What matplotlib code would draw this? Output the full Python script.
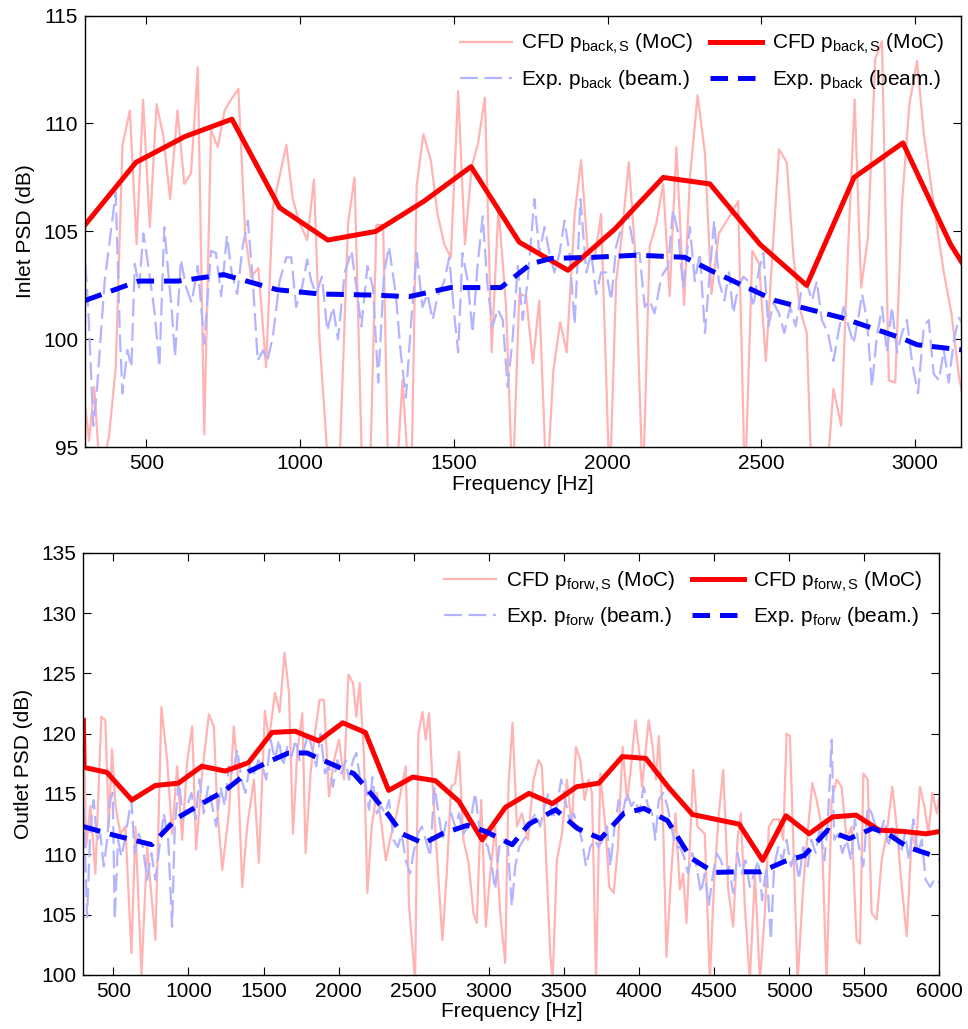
import numpy as np
import matplotlib.pyplot as plt

plt.rcParams['font.family'] = ['Liberation Sans', 'DejaVu Sans']
plt.rcParams['mathtext.fontset'] = 'custom'
plt.rcParams['mathtext.rm'] = 'Liberation Sans'
plt.rcParams['mathtext.it'] = 'Liberation Sans:italic'
plt.rcParams['font.size'] = 15

# ---- inlet (backward wave) ----
# CFD spectrum, raw (dips below 95 dB set to ~93)
in_cfd_f = [302, 313, 330, 350, 378, 400, 422, 446, 468, 489, 511, 533, 555, 577, 601, 623,
            645, 667, 688, 710, 732, 754, 775, 799, 821, 840, 864, 889, 911, 955, 976, 998,
            1023, 1045, 1063, 1101, 1125, 1156, 1177, 1205, 1226, 1248, 1270, 1289, 1311, 1333,
            1360, 1379, 1401, 1425, 1447, 1469, 1490, 1514, 1536, 1558, 1579, 1601, 1623, 1645,
            1670, 1691, 1713, 1735, 1757, 1778, 1802, 1824, 1846, 1867, 1893, 1914, 1936, 1958,
            1979, 2007, 2028, 2047, 2069, 2090, 2115, 2137, 2159, 2181, 2202, 2224, 2249, 2268,
            2293, 2317, 2338, 2362, 2401, 2425, 2447, 2471, 2493, 2515, 2537, 2558, 2583, 2605,
            2626, 2648, 2665, 2710, 2735, 2760, 2782, 2804, 2825, 2847, 2871, 2893, 2915, 2936,
            2958, 2982, 3007, 3029, 3050, 3072, 3094, 3119, 3143, 3160]
in_cfd_db = [96.8, 95.3, 97.8, 93.5, 95.5, 98.7, 109.0, 110.6, 104.4, 111.1, 105.2, 110.9, 109.4,
             106.5, 110.6, 107.2, 107.7, 112.6, 95.6, 109.7, 108.9, 110.6, 111.1, 111.6, 104.9,
             102.9, 103.3, 98.7, 106.1, 109.0, 106.5, 105.4, 104.6, 107.4, 100.0, 92.0, 93.0,
             105.4, 107.5, 92.0, 93.0, 105.3, 105.3, 92.0, 93.0, 98.1, 92.0, 107.1, 109.5, 108.3,
             105.8, 104.4, 103.8, 111.5, 104.4, 108.0, 109.1, 111.2, 99.4, 106.1, 101.5, 93.0,
             102.1, 102.0, 98.9, 101.8, 93.0, 98.6, 100.8, 99.4, 105.8, 108.3, 104.0, 103.7,
             105.8, 93.0, 102.7, 104.9, 108.2, 104.0, 93.0, 104.3, 105.4, 107.2, 102.0, 108.9,
             101.6, 107.5, 111.3, 108.6, 102.1, 104.9, 105.8, 106.4, 93.0, 104.1, 103.5, 99.0,
             104.1, 108.8, 108.2, 103.8, 101.4, 100.3, 93.0, 93.0, 97.7, 96.0, 104.0, 111.1,
             102.4, 104.7, 113.0, 113.8, 98.1, 98.0, 106.3, 110.9, 112.9, 109.5, 107.4, 105.2,
             103.1, 101.2, 98.3, 97.0]

# experiment, beamforming, raw
in_exp_f = [297, 312, 327, 338, 364, 386, 400, 414, 422, 438, 451, 462, 476, 490, 503, 527, 542,
            558, 571, 582, 593, 612, 629, 647, 667, 688, 710, 726, 743, 762, 777, 795, 813, 830,
            846, 862, 879, 893, 911, 933, 955, 971, 987, 1006, 1023, 1036, 1052, 1071, 1088,
            1107, 1123, 1145, 1167, 1183, 1199, 1219, 1237, 1254, 1273, 1289, 1311, 1327, 1344,
            1360, 1379, 1398, 1414, 1431, 1447, 1469, 1485, 1501, 1514, 1528, 1545, 1561, 1577,
            1594, 1610, 1626, 1643, 1659, 1675, 1691, 1708, 1724, 1740, 1762, 1778, 1795, 1811,
            1827, 1844, 1860, 1876, 1893, 1912, 1931, 1947, 1963, 1979, 1996, 2012, 2028, 2045,
            2066, 2088, 2104, 2121, 2137, 2153, 2175, 2197, 2213, 2230, 2246, 2268, 2284, 2300,
            2317, 2333, 2347, 2362, 2380, 2395, 2409, 2425, 2442, 2458, 2474, 2491, 2507, 2523,
            2540, 2558, 2575, 2594, 2612, 2632, 2648, 2665, 2681, 2697, 2717, 2735, 2752, 2768,
            2784, 2800, 2815, 2828, 2844, 2860, 2876, 2893, 2909, 2925, 2942, 2958, 2974, 2991,
            3010, 3029, 3045, 3061, 3078, 3094, 3110, 3127, 3143, 3160]
in_exp_db = [104.6, 101.0, 96.0, 97.5, 102.7, 105.2, 106.8, 100.0, 97.5, 99.5, 98.7, 103.5, 102.4,
             104.9, 103.7, 101.2, 98.7, 105.2, 103.1, 101.4, 99.2, 103.7, 102.4, 101.7, 103.4,
             99.8, 104.1, 104.0, 102.0, 104.8, 103.1, 102.1, 104.3, 105.5, 102.7, 99.0, 99.5,
             99.0, 100.1, 102.7, 103.8, 103.8, 101.5, 102.4, 103.7, 102.7, 102.1, 102.9, 100.4,
             101.5, 100.0, 103.1, 104.1, 102.4, 100.6, 103.4, 102.4, 98.0, 103.1, 104.3, 102.1,
             99.4, 97.3, 100.6, 104.0, 101.5, 102.1, 100.9, 102.0, 102.7, 103.8, 101.2, 99.4,
             104.0, 102.7, 100.3, 103.4, 105.7, 102.4, 100.6, 101.4, 100.9, 97.8, 100.0, 103.4,
             100.9, 102.7, 106.5, 104.0, 105.2, 104.0, 103.1, 104.0, 105.5, 104.0, 100.7, 106.5,
             103.1, 104.0, 102.1, 103.1, 103.1, 101.8, 104.3, 105.2, 105.8, 104.0, 104.0, 101.5,
             101.8, 101.2, 102.9, 103.4, 106.0, 104.9, 102.4, 105.2, 102.7, 104.0, 100.3, 103.2,
             105.5, 102.7, 101.8, 103.1, 101.2, 102.4, 102.9, 102.7, 101.5, 103.1, 104.0, 100.6,
             101.7, 101.2, 100.3, 101.5, 100.6, 102.4, 102.6, 101.8, 102.7, 100.9, 100.3, 99.0,
             100.4, 101.5, 100.6, 99.8, 100.9, 102.1, 100.9, 97.8, 100.1, 101.5, 99.4, 101.5,
             99.4, 100.3, 100.9, 98.9, 97.5, 100.6, 100.9, 98.4, 98.1, 99.5, 98.0, 100.0, 101.0,
             100.6]

# method-of-characteristics averages
in_cfd_moc_f = [300, 466, 626, 778, 933, 1090, 1246, 1403, 1556, 1713, 1871, 2023, 2181, 2333,
                2496, 2648, 2802, 2961, 3116, 3160]
in_cfd_moc_db = [105.3, 108.2, 109.4, 110.2, 106.1, 104.6, 105.0, 106.4, 108.0, 104.5, 103.2,
                 105.1, 107.5, 107.2, 104.4, 102.5, 107.5, 109.1, 104.4, 103.4]
in_exp_moc_f = [300, 474, 604, 751, 925, 1066, 1240, 1354, 1490, 1653, 1751, 1817, 1950, 2100,
                2251, 2349, 2545, 2762, 2958, 3007, 3160]
in_exp_moc_db = [101.8, 102.7, 102.7, 103.0, 102.3, 102.1, 102.05, 101.98, 102.4, 102.4, 103.5,
                 103.75, 103.8, 103.9, 103.8, 103.1, 101.8, 101.0, 100.05, 99.75, 99.5]

# ---- outlet (forward wave) ----
out_cfd_f = [302, 318, 347, 380, 420, 447, 469, 491, 514, 547, 580, 620, 647, 687, 725, 780, 820,
             858, 891, 925, 958, 991, 1025, 1051, 1091, 1136, 1169, 1191, 1225, 1269, 1302, 1331,
             1358, 1391, 1436, 1469, 1509, 1536, 1576, 1607, 1640, 1669, 1696, 1724, 1758, 1780,
             1813, 1842, 1873, 1902, 1936, 1969, 2002, 2036, 2065, 2096, 2118, 2140, 2169, 2191,
             2220, 2254, 2287, 2314, 2342, 2387, 2420, 2447, 2469, 2509, 2531, 2558, 2580, 2602,
             2631, 2665, 2691, 2720, 2749, 2776, 2802, 2831, 2865, 2898, 2920, 2949, 2980, 3009,
             3042, 3076, 3109, 3131, 3158, 3187, 3220, 3260, 3298, 3331, 3353, 3376, 3409, 3425,
             3453, 3487, 3520, 3553, 3580, 3609, 3638, 3665, 3687, 3714, 3742, 3776, 3802, 3831,
             3860, 3891, 3920, 3942, 3976, 4002, 4020, 4064, 4091, 4113, 4132, 4161, 4183, 4212,
             4243, 4272, 4294, 4316, 4361, 4389, 4438, 4472, 4501, 4532, 4561, 4594, 4627, 4656,
             4678, 4705, 4738, 4772, 4805, 4838, 4865, 4894, 4932, 4960, 4983, 5005, 5027, 5056,
             5094, 5127, 5154, 5183, 5216, 5249, 5283, 5316, 5349, 5383, 5416, 5449, 5472, 5494,
             5523, 5549, 5583, 5616, 5649, 5687, 5716, 5749, 5783, 5816, 5843, 5871, 5900, 5927,
             5954, 5983, 6005]
out_cfd_db = [121.1, 110.6, 114.0, 108.4, 121.4, 121.1, 112.3, 118.7, 114.0, 111.7, 112.3, 101.8,
              112.3, 100.0, 110.6, 102.9, 122.2, 117.8, 111.7, 117.3, 111.2, 117.6, 120.6, 110.4,
              116.7, 121.6, 120.6, 114.0, 108.7, 113.4, 120.6, 116.2, 107.3, 112.3, 116.2, 109.3,
              121.9, 119.5, 123.4, 121.8, 126.7, 123.4, 111.7, 118.4, 121.7, 110.1, 116.7, 120.0,
              122.8, 122.8, 114.8, 117.8, 119.5, 116.2, 124.9, 124.2, 121.4, 124.2, 118.1, 106.8,
              112.3, 115.1, 112.3, 109.5, 111.2, 113.4, 115.6, 117.3, 105.7, 99.5, 120.0, 121.8,
              119.5, 121.7, 114.5, 107.9, 102.9, 108.4, 115.6, 115.9, 118.5, 111.2, 109.3, 105.1,
              104.3, 114.5, 104.0, 108.4, 112.3, 105.1, 101.0, 115.7, 120.9, 112.3, 113.4, 111.2,
              116.2, 117.8, 117.3, 111.2, 101.8, 99.5, 109.5, 111.7, 116.2, 112.3, 118.9, 117.8,
              114.5, 116.2, 115.1, 99.5, 116.7, 112.3, 107.3, 106.8, 110.6, 118.9, 114.5, 116.7,
              121.1, 118.4, 115.6, 121.1, 118.9, 116.2, 119.8, 112.3, 101.5, 107.9, 113.4, 107.1,
              108.4, 104.3, 117.0, 112.3, 111.7, 99.5, 107.9, 113.4, 117.0, 107.1, 104.0, 111.2,
              113.4, 105.7, 99.5, 108.4, 99.5, 105.1, 112.3, 112.9, 112.9, 111.2, 120.0, 119.8,
              111.2, 99.5, 107.4, 112.3, 115.9, 114.5, 112.3, 99.5, 114.5, 116.2, 115.6, 111.2,
              112.3, 102.9, 102.6, 116.7, 116.2, 105.1, 104.6, 109.5, 111.7, 115.6, 112.3, 107.4,
              103.2, 111.7, 110.6, 115.6, 114.0, 111.7, 115.1, 113.4, 115.1]

out_exp_f = [302, 325, 347, 369, 391, 413, 436, 458, 480, 496, 509, 531, 554, 576, 598, 620, 642,
             669, 696, 725, 753, 780, 807, 836, 865, 891, 909, 936, 962, 991, 1020, 1047, 1073,
             1102, 1131, 1158, 1185, 1213, 1242, 1269, 1296, 1325, 1353, 1380, 1407, 1436, 1465,
             1491, 1518, 1547, 1576, 1602, 1629, 1658, 1687, 1713, 1740, 1769, 1798, 1825, 1851,
             1880, 1909, 1936, 1962, 1991, 2020, 2047, 2069, 2096, 2118, 2147, 2176, 2202, 2225,
             2254, 2282, 2309, 2336, 2365, 2394, 2420, 2447, 2476, 2498, 2527, 2554, 2580, 2609,
             2638, 2665, 2691, 2720, 2749, 2776, 2802, 2831, 2860, 2887, 2909, 2936, 2965, 2994,
             3020, 3042, 3069, 3098, 3127, 3153, 3176, 3202, 3231, 3260, 3287, 3313, 3342, 3371,
             3398, 3425, 3453, 3482, 3509, 3536, 3564, 3593, 3620, 3647, 3676, 3704, 3731, 3758,
             3787, 3809, 3838, 3865, 3891, 3920, 3949, 3976, 4002, 4031, 4060, 4087, 4109, 4132,
             4161, 4189, 4216, 4243, 4272, 4300, 4327, 4354, 4383, 4412, 4438, 4465, 4487, 4516,
             4545, 4572, 4598, 4627, 4656, 4683, 4709, 4738, 4767, 4794, 4820, 4849, 4878, 4900,
             4927, 4954, 4983, 5012, 5038, 5065, 5094, 5123, 5149, 5176, 5205, 5234, 5256, 5283,
             5300, 5327, 5354, 5383, 5412, 5438, 5465, 5494, 5523, 5549, 5576, 5605, 5634, 5660,
             5687, 5716, 5745, 5771, 5798, 5827, 5856, 5883, 5909, 5938, 5967, 5994, 6011]
out_exp_db = [114.0, 104.8, 112.3, 114.5, 111.2, 111.7, 109.0, 111.2, 114.5, 115.1, 104.6, 111.2,
              109.8, 111.2, 112.9, 114.5, 110.1, 111.7, 110.6, 107.9, 110.1, 107.9, 110.6, 113.4,
              111.2, 104.0, 112.3, 116.2, 112.9, 114.0, 115.1, 112.9, 116.2, 113.4, 115.6, 114.0,
              112.3, 115.6, 114.0, 117.3, 116.7, 118.7, 116.2, 115.1, 117.3, 116.7, 117.8, 117.3,
              116.2, 119.5, 117.8, 119.5, 117.3, 118.9, 118.1, 119.5, 117.8, 118.7, 120.0, 118.7,
              117.3, 120.0, 116.7, 117.3, 115.6, 117.8, 116.7, 117.8, 116.2, 117.8, 118.4, 115.9,
              116.2, 113.7, 116.4, 113.4, 114.0, 113.4, 114.5, 111.2, 110.6, 111.7, 109.5, 108.4,
              110.1, 111.7, 112.3, 111.2, 109.8, 115.6, 113.4, 111.2, 112.9, 113.4, 112.3, 113.4,
              111.7, 112.3, 113.4, 115.1, 112.3, 111.2, 110.6, 109.0, 107.1, 110.6, 111.2, 110.6,
              105.7, 109.0, 110.6, 111.2, 111.7, 112.9, 113.4, 112.3, 114.0, 115.1, 112.9, 114.0,
              116.2, 114.5, 112.9, 113.4, 112.3, 111.2, 109.0, 110.6, 111.2, 110.6, 111.2, 112.3,
              109.0, 112.3, 114.5, 113.4, 115.1, 114.0, 114.5, 113.4, 115.6, 114.0, 113.4, 111.2,
              114.5, 115.1, 114.0, 112.3, 110.6, 110.6, 109.8, 108.4, 110.1, 109.0, 106.8, 108.4,
              105.7, 107.9, 110.1, 109.5, 108.4, 109.0, 106.8, 110.1, 108.4, 109.5, 107.3, 108.4,
              109.5, 106.2, 109.0, 102.9, 109.0, 110.6, 109.5, 111.2, 109.0, 110.1, 107.9, 110.6,
              109.0, 111.2, 110.1, 112.3, 109.5, 112.3, 119.5, 111.2, 111.7, 110.1, 111.2, 109.5,
              112.9, 110.6, 109.0, 114.0, 113.4, 112.3, 111.7, 112.9, 110.6, 112.3, 111.2, 110.1,
              111.7, 109.5, 112.9, 110.1, 111.2, 107.9, 107.3, 107.9, 107.6, 107.9]

out_cfd_moc_f = [300, 305, 456, 623, 778, 933, 1089, 1245, 1400, 1556, 1711, 1867, 2027, 2178,
                 2333, 2493, 2645, 2800, 2956, 3111, 3267, 3423, 3585, 3733, 3889, 4045, 4200,
                 4356, 4511, 4667, 4823, 4978, 5133, 5289, 5445, 5600, 5756, 5911, 6006]
out_cfd_moc_db = [121.1, 117.2, 116.8, 114.5, 115.7, 115.9, 117.3, 116.9, 117.6, 120.1, 120.2,
                  119.4, 120.9, 120.1, 115.3, 116.4, 116.1, 114.4, 111.2, 113.9, 115.05, 114.2,
                  115.6, 115.9, 118.1, 117.95, 115.5, 113.3, 112.9, 112.5, 109.5, 113.2, 111.7,
                  113.1, 113.25, 112.0, 111.9, 111.7, 111.9]
out_exp_moc_f = [300, 500, 756, 923, 1089, 1245, 1400, 1556, 1667, 1789, 1867, 2022, 2100, 2178,
                 2333, 2423, 2567, 2689, 2856, 2978, 3156, 3267, 3445, 3589, 3744, 3900, 4033,
                 4189, 4345, 4500, 4656, 4811, 4967, 5100, 5256, 5400, 5556, 5656, 5789, 6006]
out_exp_moc_db = [112.3, 111.6, 110.8, 113.0, 114.2, 115.3, 116.85, 117.8, 118.4, 118.4, 117.95,
                  117.1, 116.7, 115.6, 113.25, 111.7, 110.9, 111.7, 112.4, 111.9, 110.8, 112.5,
                  113.7, 112.15, 111.3, 113.4, 113.8, 112.8, 109.7, 108.5, 108.55, 108.55, 109.4,
                  109.9, 112.0, 111.3, 112.15, 111.7, 110.6, 109.7]

light_red = '#ffb3b3'
light_blue = '#b3b3ff'

fig = plt.figure(figsize=(9.68, 10.29), dpi=100)
ax1 = fig.add_axes([0.0878, 0.5653, 0.905, 0.4196])
ax2 = fig.add_axes([0.0861, 0.0525, 0.8843, 0.4104])


def psd_panel(ax, cf, cdb, ef, edb, mf, mdb, bf, bdb, sub, sub_exp):
    h1, = ax.plot(cf, cdb, color=light_red, lw=1.6,
                  label=r'CFD p$_{\mathrm{%s}}$ (MoC)' % sub)
    h2, = ax.plot(ef, edb, color=light_blue, lw=1.6, dashes=(8, 3),
                  label=r'Exp. p$_{\mathrm{%s}}$ (beam.)' % sub_exp)
    h3, = ax.plot(mf, mdb, color='r', lw=3.6,
                  label=r'CFD p$_{\mathrm{%s}}$ (MoC)' % sub)
    h4, = ax.plot(bf, bdb, color='b', lw=3.6, dashes=(3.5, 2),
                  label=r'Exp. p$_{\mathrm{%s}}$ (beam.)' % sub_exp)
    ax.legend(handles=[h1, h2, h3, h4], ncol=2, loc='upper right', frameon=False,
              handlelength=2.5, handletextpad=0.45, columnspacing=0.8,
              labelspacing=0.55, borderaxespad=0.5, borderpad=0.3, fontsize=15)
    ax.tick_params(direction='in', top=True, right=True, length=6, width=0.8,
                   labelsize=15, pad=5)
    for s in ax.spines.values():
        s.set_linewidth(1.0)
    ax.set_xlabel('Frequency [Hz]', labelpad=1)


psd_panel(ax1, in_cfd_f, in_cfd_db, in_exp_f, in_exp_db,
          in_cfd_moc_f, in_cfd_moc_db, in_exp_moc_f, in_exp_moc_db, 'back,S', 'back')
ax1.set_xlim(300, 3150)
ax1.set_ylim(95, 115)
ax1.set_xticks(np.arange(500, 3001, 500))
ax1.set_yticks(np.arange(95, 116, 5))
ax1.set_ylabel('Inlet PSD (dB)', labelpad=6)

psd_panel(ax2, out_cfd_f, out_cfd_db, out_exp_f, out_exp_db,
          out_cfd_moc_f, out_cfd_moc_db, out_exp_moc_f, out_exp_moc_db, 'forw,S', 'forw')
ax2.set_xlim(300, 6000)
ax2.set_ylim(100, 135)
ax2.set_xticks(np.arange(500, 6001, 500))
ax2.set_yticks(np.arange(100, 136, 5))
ax2.set_ylabel('Outlet PSD (dB)', labelpad=6)

fig.savefig('out.png', dpi=100)
